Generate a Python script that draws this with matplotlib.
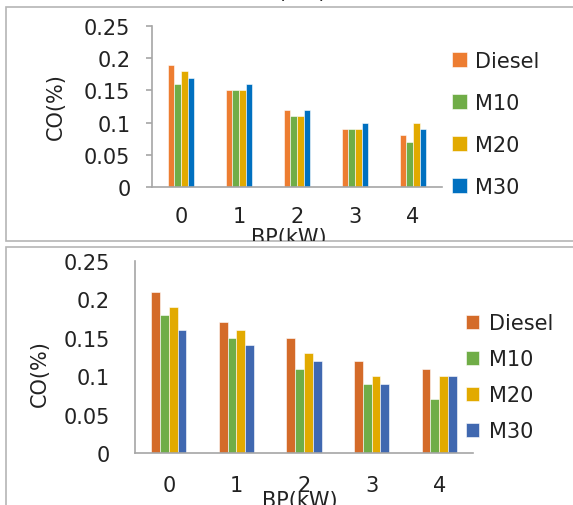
import numpy as np
import matplotlib
matplotlib.use("Agg")
import matplotlib.pyplot as plt
from matplotlib.patches import Rectangle, Patch

plt.rcParams['font.family'] = ['DejaVu Sans']

bp = [0, 1, 2, 3, 4]
fuels = ["Diesel", "M10", "M20", "M30"]

# upper chart
co_top_diesel = [0.19, 0.15, 0.12, 0.09, 0.08]
co_top_m10 = [0.16, 0.15, 0.11, 0.09, 0.07]
co_top_m20 = [0.18, 0.15, 0.11, 0.09, 0.10]
co_top_m30 = [0.17, 0.16, 0.12, 0.10, 0.09]

# lower chart
co_bot_diesel = [0.21, 0.17, 0.15, 0.12, 0.11]
co_bot_m10 = [0.18, 0.15, 0.11, 0.09, 0.07]
co_bot_m20 = [0.19, 0.16, 0.13, 0.10, 0.10]
co_bot_m30 = [0.16, 0.14, 0.12, 0.09, 0.10]

yticks = [0, 0.05, 0.1, 0.15, 0.2, 0.25]
ytick_labels = ["0", "0.05", "0.1", "0.15", "0.2", "0.25"]

top_colors = ["#ED7D31", "#70AD47", "#E2AA00", "#0070C0"]
bot_colors = ["#D46B29", "#70AD47", "#E2AA00", "#4068B0"]

W, H = 573, 506
FS = 15
TXT = "#222222"
fig = plt.figure(figsize=(W / 100, H / 100), dpi=100)

def fx(px):
    return px / W

def fy(py):
    return 1 - py / H

grey = "#A6A6A6"

# panel frames
top_frame = Rectangle((fx(6), fy(242)), 1, fy(8) - fy(242), transform=fig.transFigure,
                      facecolor="white", edgecolor="#B5B5B5", lw=1.2, zorder=0)
fig.patches.append(top_frame)
fig.patches.append(Rectangle((fx(6), fy(520)), 1, fy(248) - fy(520), transform=fig.transFigure,
                             facecolor="white", edgecolor="#B5B5B5", lw=1.2, zorder=1))

# cut-off label of previous chart at very top
fig.text(fx(289), fy(2), "BP(kW)", ha="center", va="bottom", fontsize=FS, color=TXT)


def draw(ax, series, colors, group_w, tick_len, ypad, xpad, xlab_pos, ylab_pos):
    x = np.arange(len(bp))
    bw = group_w / len(series)
    for i, (vals, c) in enumerate(zip(series, colors)):
        ax.bar(x + (i - 1.5) * bw, vals, bw, color=c, edgecolor="white", linewidth=0.4)
    ax.set_xlim(-0.5, len(bp) - 0.5)
    ax.set_ylim(0, 0.25)
    ax.set_yticks(yticks)
    ax.set_yticklabels(ytick_labels)
    ax.set_xticks(x)
    ax.set_xticklabels([str(b) for b in bp])
    for s in ["top", "right"]:
        ax.spines[s].set_visible(False)
    for s in ["left", "bottom"]:
        ax.spines[s].set_color(grey)
        ax.spines[s].set_linewidth(1.2)
    ax.tick_params(axis="x", length=0, pad=xpad, labelsize=FS, labelcolor=TXT)
    ax.tick_params(axis="y", length=tick_len, width=1.2, color=grey, pad=ypad,
                   labelsize=FS, labelcolor=TXT)
    ax.set_ylabel("CO(%)", fontsize=FS, color=TXT, va="center")
    ax.yaxis.set_label_coords(*ylab_pos)
    ax.set_xlabel("BP(kW)", fontsize=FS, color=TXT, va="center")
    ax.xaxis.set_label_coords(*xlab_pos)
    ax.patch.set_alpha(0)


ax1 = fig.add_axes([fx(152), fy(188), fx(442) - fx(152), fy(27) - fy(188)], zorder=0.5)
draw(ax1, [co_top_diesel, co_top_m10, co_top_m20, co_top_m30], top_colors,
     0.45, 4.5, 11, 14, (0.472, -0.31), (-0.33, 0.503))
ax1.xaxis.label.set_clip_path(top_frame)
h1 = [Patch(facecolor=c, edgecolor="white", linewidth=0.4) for c in top_colors]
fig.legend(h1, fuels, loc="center left", bbox_to_anchor=(fx(452), fy(125)),
           bbox_transform=fig.transFigure, frameon=False, fontsize=FS,
           handlelength=0.72, handleheight=0.72, handletextpad=0.4,
           labelspacing=1.06, borderpad=0, borderaxespad=0, labelcolor=TXT)

ax2 = fig.add_axes([fx(135), fy(454), fx(473) - fx(135), fy(262) - fy(454)], zorder=2)
draw(ax2, [co_bot_diesel, co_bot_m10, co_bot_m20, co_bot_m30], bot_colors,
     0.52, 0, 18, 16, (0.488, -0.245), (-0.28, 0.42))
ax2.legend([Patch(facecolor=c, edgecolor="white", linewidth=0.4) for c in bot_colors],
           fuels, loc="center left", bbox_to_anchor=(fx(466), fy(378)),
           bbox_transform=fig.transFigure, frameon=False, fontsize=FS,
           handlelength=0.64, handleheight=0.64, handletextpad=0.45,
           labelspacing=0.77, borderpad=0, borderaxespad=0, labelcolor=TXT)

fig.savefig("out.png", dpi=100)
